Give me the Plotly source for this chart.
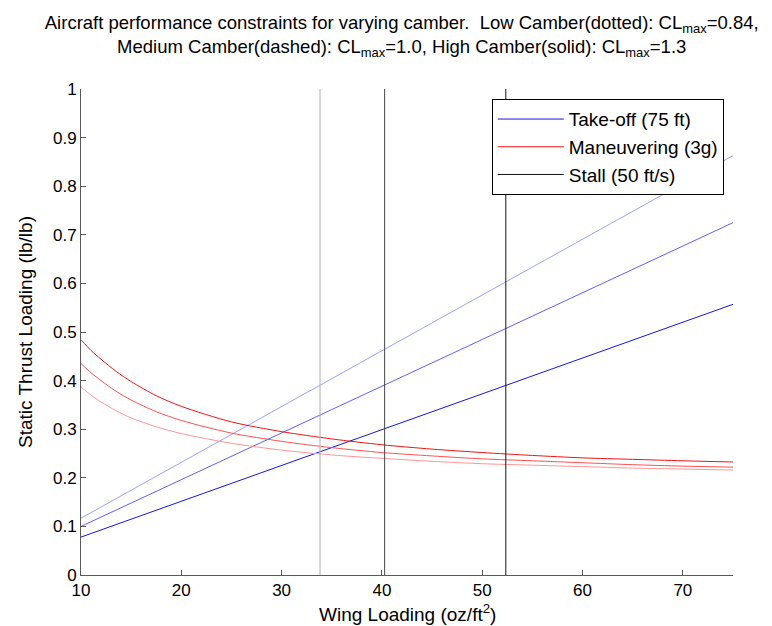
import plotly.graph_objects as go

# ---- data ----
wing_loading_ends = [10, 75]
takeoff_low = [0.117, 0.863]     # CLmax 0.84 (dotted)
takeoff_med = [0.100, 0.725]     # CLmax 1.0 (dashed)
takeoff_high = [0.078, 0.557]    # CLmax 1.3 (solid)

wing_loading = [10, 11, 12, 13.5, 15, 17.5, 20, 25, 30, 35, 40, 45, 50, 55, 60, 65, 70, 75]
maneuver_low = [0.387, 0.370, 0.356, 0.338, 0.323, 0.305, 0.291, 0.271, 0.257, 0.247, 0.240, 0.234, 0.229, 0.226, 0.223, 0.220, 0.218, 0.216]
maneuver_med = [0.435, 0.416, 0.400, 0.378, 0.360, 0.336, 0.318, 0.292, 0.275, 0.262, 0.252, 0.245, 0.239, 0.235, 0.231, 0.227, 0.224, 0.222]
maneuver_high = [0.484, 0.462, 0.444, 0.419, 0.398, 0.369, 0.347, 0.315, 0.295, 0.280, 0.268, 0.259, 0.252, 0.246, 0.241, 0.238, 0.235, 0.2325]

stall_wing_loading = [33.83, 40.27, 52.35]   # low, medium, high camber
stall_y = [0, 1]

x_ticks = [10, 20, 30, 40, 50, 60, 70]
y_ticks = [0, 0.1, 0.2, 0.3, 0.4, 0.5, 0.6, 0.7, 0.8, 0.9, 1]
y_tick_text = ["0", "0.1", "0.2", "0.3", "0.4", "0.5", "0.6", "0.7", "0.8", "0.9", "1"]

FONT = "Liberation Sans Narrow, Arial Narrow, Liberation Sans, Arial, sans-serif"
FS_TICK = 17
FS = 19

fig = go.Figure()

def line(x, y, color, name=None, legend=False, rank=1000):
    fig.add_trace(go.Scatter(
        x=x, y=y, mode="lines",
        line=dict(color=color, width=1, shape="spline" if len(x) > 2 else "linear", smoothing=0.8),
        name=name or "", showlegend=legend, legendrank=rank, hoverinfo="skip"))

# take-off
line(wing_loading_ends, takeoff_low, "rgb(160,160,255)")
line(wing_loading_ends, takeoff_med, "rgb(95,95,255)")
line(wing_loading_ends, takeoff_high, "rgb(20,20,240)", "Take-off (75 ft)", True, 1)
# maneuvering
line(wing_loading, maneuver_low, "rgb(255,150,150)")
line(wing_loading, maneuver_med, "rgb(255,80,80)")
line(wing_loading, maneuver_high, "rgb(240,20,20)", "Maneuvering (3g)", True, 2)
# stall
stall_colors = ["rgb(175,175,175)", "rgb(70,70,70)", "rgb(20,20,20)"]
for i, (xs, c) in enumerate(zip(stall_wing_loading, stall_colors)):
    line([xs, xs], stall_y, c, "Stall (50 ft/s)" if i == 2 else None, i == 2, 3)

axis_common = dict(showgrid=False, zeroline=False, showline=True, linecolor="rgb(90,90,90)",
                   linewidth=1, ticks="inside", ticklen=5, tickcolor="rgb(90,90,90)",
                   tickfont=dict(family=FONT, size=FS_TICK, color="black"), mirror=False)

fig.update_layout(
    width=772, height=626,
    paper_bgcolor="white", plot_bgcolor="white",
    margin=dict(l=73, r=47, t=81, b=59),
    font=dict(family=FONT, size=FS, color="black"),
    title=dict(
        text="Aircraft performance constraints for varying camber.  Low Camber(dotted): CL<sub>max</sub>=0.84,<br>"
             "Medium Camber(dashed): CL<sub>max</sub>=1.0, High Camber(solid): CL<sub>max</sub>=1.3",
        x=0.51, xanchor="center", yref="container", y=0.966, yanchor="middle",
        font=dict(family=FONT, size=18.5, color="black")),
    xaxis=dict(range=[10, 75], tickvals=x_ticks, **axis_common),
    yaxis=dict(range=[0, 1], tickvals=y_ticks, ticktext=y_tick_text, **axis_common),
    legend=dict(x=0.63, y=0.979, xanchor="left", yanchor="top",
                bgcolor="white", bordercolor="black", borderwidth=1,
                itemwidth=66,
                font=dict(family=FONT, size=FS, color="black"),
                tracegroupgap=0),
    annotations=[
        dict(text="Wing Loading (oz/ft<sup>2</sup>)", xref="paper", yref="paper",
             x=0.5, y=0, yshift=-38, xanchor="center", yanchor="middle",
             showarrow=False, font=dict(family=FONT, size=FS, color="black")),
        dict(text="Static Thrust Loading (lb/lb)", xref="paper", yref="paper",
             x=0, y=0.5, xshift=-56, xanchor="center", yanchor="middle", textangle=-90,
             showarrow=False, font=dict(family=FONT, size=FS, color="black")),
    ],
)

fig.write_html("out.html")
